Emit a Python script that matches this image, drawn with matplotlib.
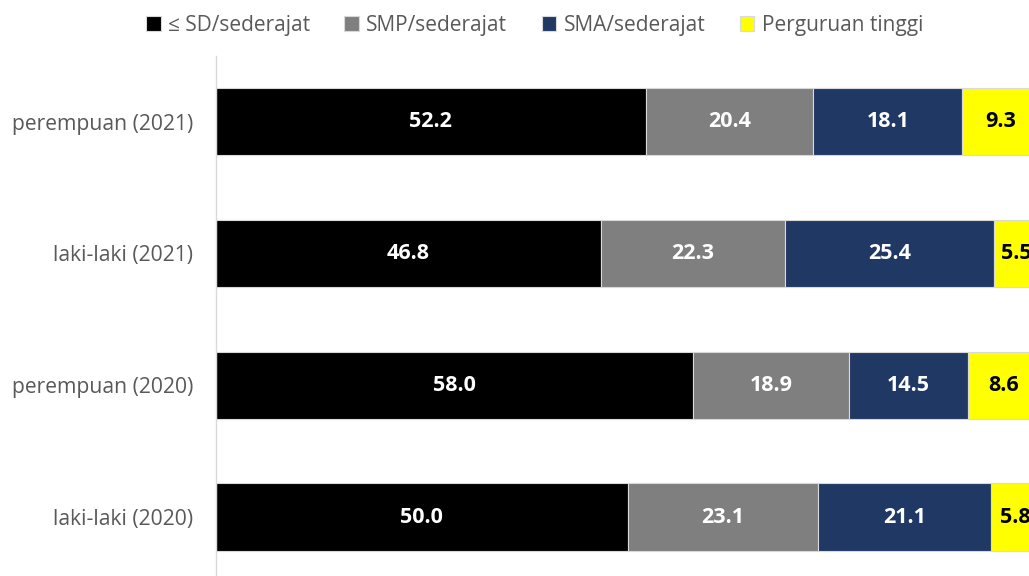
import matplotlib
matplotlib.use("Agg")
import matplotlib.pyplot as plt
import numpy as np

plt.rcParams['font.family'] = ['Open Sans', 'DejaVu Sans']

categories = ["perempuan (2021)", "laki-laki (2021)", "perempuan (2020)", "laki-laki (2020)"]
series_names = ["\u2264 SD/sederajat", "SMP/sederajat", "SMA/sederajat", "Perguruan tinggi"]
sd = [52.2, 46.8, 58.0, 50.0]
smp = [20.4, 22.3, 18.9, 23.1]
sma = [18.1, 25.4, 14.5, 21.1]
pt = [9.3, 5.5, 8.6, 5.8]
colors = ["#000000", "#7f7f7f", "#203864", "#ffff00"]
text_colors = ["white", "white", "white", "black"]

W, H = 1029, 576
fig = plt.figure(figsize=(W / 100, H / 100), dpi=100)
ax = fig.add_axes([216 / W, 1 - 583 / H, (1039 - 216) / W, (583 - 55.6) / H])

y = np.arange(len(categories))
left = np.zeros(len(categories))
for name, vals, c, tc in zip(series_names, [sd, smp, sma, pt], colors, text_colors):
    vals = np.array(vals)
    ax.barh(y, vals, left=left, height=0.51, color=c, edgecolor="#d9d9d9",
            linewidth=0.8, label=name)
    for yi, l, v in zip(y, left, vals):
        ax.text(l + v / 2, yi, f"{v:.1f}", ha="center", va="center",
                color=tc, fontsize=15.5, fontweight="bold")
    left = left + vals

ax.set_xlim(0, 100)
ax.set_ylim(3.5, -0.5)
ax.set_yticks(y)
ax.set_yticklabels(categories, fontsize=15.2, color="#595959")
ax.tick_params(axis="y", length=0, pad=16.5)
ax.set_xticks([])
for s in ["top", "right", "bottom"]:
    ax.spines[s].set_visible(False)
ax.spines["left"].set_color("#d9d9d9")
ax.spines["left"].set_linewidth(1.0)

fig.legend(loc="center", bbox_to_anchor=(534.5 / W, 1 - 25 / H), ncol=4, frameon=False,
           fontsize=15, labelcolor="#595959", handlelength=0.7, handleheight=0.7,
           handletextpad=0.35, columnspacing=1.65, borderaxespad=0)

fig.savefig("out.png", dpi=100)
